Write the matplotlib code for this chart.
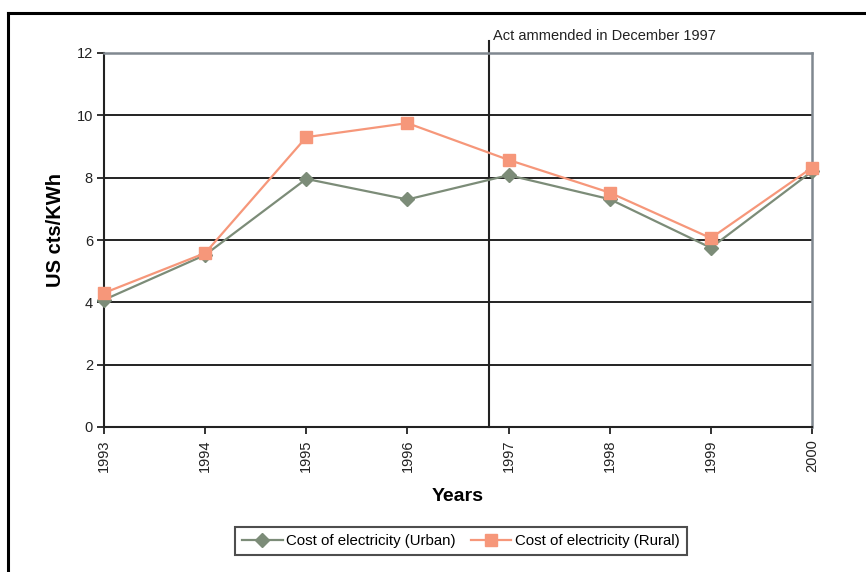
import matplotlib
matplotlib.use("Agg")
import matplotlib.pyplot as plt
from matplotlib.lines import Line2D

plt.rcParams['font.family'] = ['Liberation Sans', 'DejaVu Sans']

years = [1993, 1994, 1995, 1996, 1997, 1998, 1999, 2000]
urban = [4.08, 5.52, 7.96, 7.3, 8.08, 7.31, 5.75, 8.2]
rural = [4.3, 5.58, 9.3, 9.75, 8.57, 7.52, 6.06, 8.32]
yticks = [0, 2, 4, 6, 8, 10, 12]
act_x = 1996.81
act_label = "Act ammended in December 1997"

W, H = 866, 572
fig = plt.figure(figsize=(W / 100, H / 100), dpi=100)
ax = fig.add_axes([104 / W, 1 - 427 / H, 708 / W, 374 / H])

# outer frame (partially visible)
fig.add_artist(Line2D([8 / W, 1.0], [1 - 13 / H, 1 - 13 / H], color='black', lw=2.2, transform=fig.transFigure))
fig.add_artist(Line2D([8 / W, 8 / W], [0, 1 - 13 / H], color='black', lw=2.2, transform=fig.transFigure))

green = '#7C8C78'
salmon = '#F6977A'

ax.plot(years, urban, color=green, lw=1.6, marker='D', markersize=7, label='Cost of electricity (Urban)', zorder=3, clip_on=False)
ax.plot(years, rural, color=salmon, lw=1.6, marker='s', markersize=9, label='Cost of electricity (Rural)', zorder=4, clip_on=False)

ax.set_xlim(years[0], years[-1])
ax.set_ylim(yticks[0], yticks[-1])
ax.set_yticks(yticks)
ax.set_xticks(years)
ax.set_xticklabels([str(y) for y in years], rotation=90)
ax.yaxis.grid(True, color='#222222', lw=1.4)
ax.set_axisbelow(True)

for s in ['left', 'bottom']:
    ax.spines[s].set_color('#222222')
    ax.spines[s].set_linewidth(1.5)
for s in ['top', 'right']:
    ax.spines[s].set_color('#808890')
    ax.spines[s].set_linewidth(1.8)

ax.tick_params(axis='both', direction='out', length=5, width=1.3, color='#222222', labelsize=10.5, labelcolor='#222222')
ax.tick_params(axis='y', pad=3)
ax.tick_params(axis='x', pad=4)

ax.set_ylabel('US cts/KWh', fontsize=14.5, fontweight='bold')
ax.yaxis.set_label_coords(-0.055, 0.528)
ax.set_xlabel('Years', fontsize=14, fontweight='bold')
ax.xaxis.set_label_coords(0.5, -0.162)

# act line
ax.plot([act_x, act_x], [0, 12.38], color='#222222', lw=1.5, clip_on=False, zorder=2)
ax.text(act_x + 0.04, 12.53, act_label, fontsize=10.5, color='#222222', va='center', ha='left')

leg = fig.legend(loc='center', bbox_to_anchor=(461 / W, 1 - 541 / H), ncol=2, frameon=True,
                 fancybox=False, edgecolor='#222222', fontsize=10.8, handlelength=2.7,
                 columnspacing=1.0, handletextpad=0.25, borderpad=0.45, borderaxespad=0)
leg.get_frame().set_linewidth(1.5)

fig.savefig('out.png', dpi=100)
